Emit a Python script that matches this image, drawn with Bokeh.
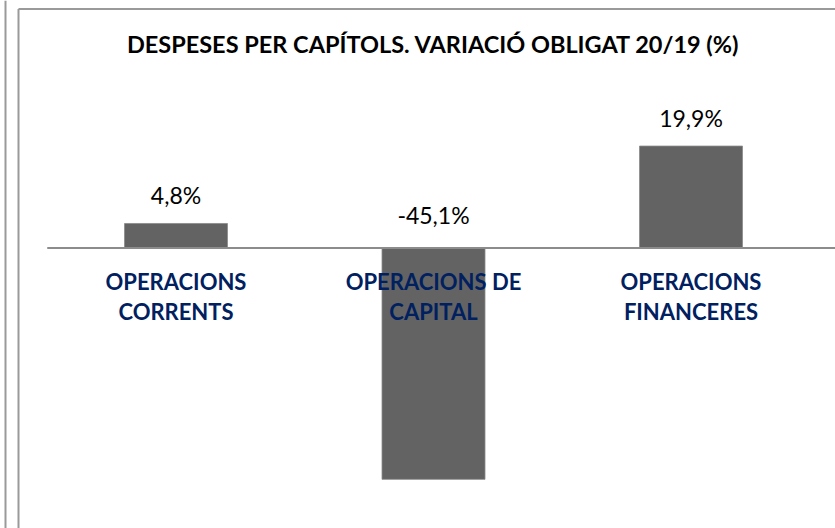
import numpy as np
from bokeh.plotting import figure
from bokeh.models import ColumnDataSource, Range1d, Label
from bokeh.core.properties import value
from bokeh.embed import file_html
from bokeh.resources import INLINE

# ---- data ----
title_text = "DESPESES PER CAPÍTOLS. VARIACIÓ OBLIGAT 20/19 (%)"
categories = ["OPERACIONS CORRENTS", "OPERACIONS DE CAPITAL", "OPERACIONS FINANCERES"]
tick_line1 = ["OPERACIONS", "OPERACIONS DE", "OPERACIONS"]
tick_line2 = ["CORRENTS", "CAPITAL", "FINANCERES"]
variation = [4.8, -45.1, 19.9]

value_labels = [("%.1f%%" % v).replace(".", ",") for v in variation]
xs = np.arange(len(categories)) + 0.5

# ---- layout (pixels) ----
W, H = 835, 528
X0_PX, X_SCALE = 46.75, 257.5      # px of category-axis origin, px per category
Y0_PX, Y_SCALE = 247.6, 5.128      # px of zero line, px per percent point

def dx(px):
    return (px - X0_PX) / X_SCALE

def dy(py):
    return (Y0_PX - py) / Y_SCALE

x_start, x_end = dx(0), dx(W)
y_start, y_end = dy(H), dy(0)

src = ColumnDataSource(dict(
    x=xs, top=variation, cat=categories,
    l1=tick_line1, l2=tick_line2, vlab=value_labels,
    vy=[max(v, 0) for v in variation],
    voff=[-28.5 if v >= 0 else -33.0 for v in variation],
))

p = figure(width=W, height=H, output_backend="svg", toolbar_location=None,
           x_range=Range1d(x_start, x_end), y_range=Range1d(y_start, y_end),
           min_border_left=0, min_border_right=0, min_border_top=0, min_border_bottom=0,
           x_axis_location=None, y_axis_location=None)
p.grid.visible = False
p.outline_line_color = None
p.background_fill_color = "white"
p.border_fill_color = "white"

p.vbar(x="x", top="top", bottom=0, width=0.4, source=src,
       fill_color="#636363", line_color="#8a8a8a", line_width=0.8)

# zero axis line
p.segment(x0=[0], y0=[0], x1=[x_end], y1=[0], line_color="#8c8c8c", line_width=2)

# frame borders
border = "#9a9a9a"
p.segment(x0=[dx(5), dx(18), dx(18)], y0=[dy(0), dy(8.5), dy(8.5)],
          x1=[dx(5), dx(18), dx(W)], y1=[dy(H), dy(H), dy(8.5)],
          line_color=border, line_width=2)

# value labels
p.text(x="x", y="vy", text="vlab", source=src, y_offset="voff",
       text_font=value("Lato"), text_font_size="23px", text_color="black",
       text_align="center", text_baseline="alphabetic")

# category labels
p.text(x="x", y=0, text="l1", source=src, y_offset=33,
       text_font=value("Lato"), text_font_style="bold", text_font_size="22px",
       text_color="#002060", text_align="center", text_baseline="alphabetic")
p.text(x="x", y=0, text="l2", source=src, y_offset=63.7,
       text_font=value("Lato"), text_font_style="bold", text_font_size="22px",
       text_color="#002060", text_align="center", text_baseline="alphabetic")

# title
p.add_layout(Label(x=float(np.mean(xs)), y=dy(43.0), text=title_text,
                   text_font="Lato", text_font_style="bold", text_font_size="23.5px",
                   text_color="black", text_align="center", text_baseline="alphabetic"))

open("out.html", "w").write(file_html(p, INLINE))
